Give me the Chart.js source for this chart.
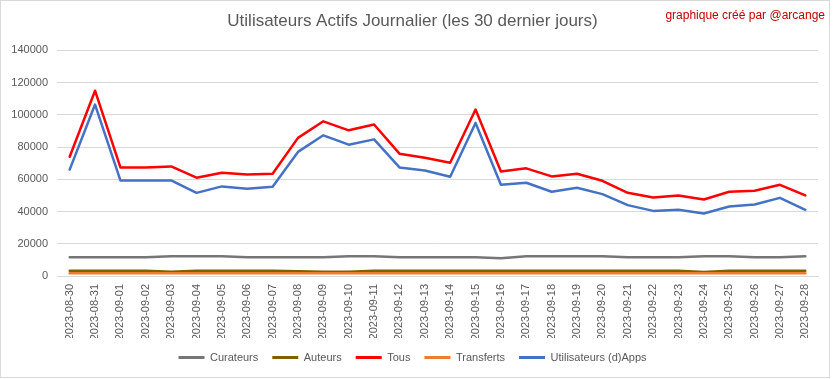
<!DOCTYPE html>
<html>
<head>
<meta charset="utf-8">
<script src="https://cdn.jsdelivr.net/npm/chart.js@4"></script>
<style>
  html, body { margin: 0; padding: 0; background: #fff; }
  #wrap { position: relative; width: 833px; height: 379px; }
</style>
</head>
<body>
<div id="wrap"><canvas id="dauChart" width="833" height="379"></canvas></div>
<script>
const dates = ['2023-08-30', '2023-08-31', '2023-09-01', '2023-09-02', '2023-09-03', '2023-09-04', '2023-09-05', '2023-09-06',
    '2023-09-07', '2023-09-08', '2023-09-09', '2023-09-10', '2023-09-11', '2023-09-12', '2023-09-13', '2023-09-14',
    '2023-09-15', '2023-09-16', '2023-09-17', '2023-09-18', '2023-09-19', '2023-09-20', '2023-09-21', '2023-09-22',
    '2023-09-23', '2023-09-24', '2023-09-25', '2023-09-26', '2023-09-27', '2023-09-28'];

const curateurs = [11600, 11600, 11600, 11600, 12200, 12200, 12200, 11600, 11600, 11600, 11600, 12200, 12200, 11600, 11600,
    11600, 11600, 11000, 12200, 12200, 12200, 12200, 11600, 11600, 11600, 12200, 12200, 11600, 11600, 12200];
const auteurs = [3300, 3300, 3300, 3300, 2600, 3300, 3300, 3300, 3300, 2900, 2700, 2700, 3300, 3300, 3300,
    3300, 3300, 3300, 3300, 3300, 3300, 3300, 3300, 3300, 3300, 2500, 3300, 3300, 3300, 3300];
const tous = [74000, 115000, 67400, 67400, 68000, 61000, 64100, 63000, 63500, 85700, 96000, 90400, 94000, 75900, 73400,
    70300, 103300, 64900, 66800, 61800, 63500, 59100, 51600, 48700, 50000, 47500, 52300, 52900, 56600, 50000];
const transferts = [1700, 1700, 1700, 1700, 1700, 1700, 1700, 1700, 1700, 1700, 1700, 1700, 1700, 1700, 1700,
    1700, 1700, 1700, 1700, 1700, 1700, 1700, 1700, 1700, 1700, 1700, 1700, 1700, 1700, 1700];
const appsUsers = [66000, 106400, 59300, 59300, 59300, 51600, 55600, 54100, 55400, 77000, 87300, 81500, 84800, 67400, 65500,
    61600, 95000, 56600, 57900, 52300, 54800, 50800, 44000, 40400, 41100, 38800, 43100, 44400, 48500, 41100];

const yTicks = [0, 20000, 40000, 60000, 80000, 100000, 120000, 140000];

const FONT = '"Liberation Sans", Arial, sans-serif';
const TXT = '#595959';

function serie(label, data, color, order) {
    return {
        label: label,
        data: data,
        borderColor: color,
        backgroundColor: color,
        borderWidth: 2.5,
        pointRadius: 0,
        tension: 0,
        borderJoinStyle: 'round',
        borderCapStyle: 'round',
        order: order
    };
}

// signature + cadre du graphique
const extras = {
    id: 'extras',
    afterDraw(chart) {
        const ctx = chart.ctx;
        ctx.save();
        ctx.font = '12px ' + FONT;
        ctx.fillStyle = '#C00000';
        ctx.textAlign = 'right';
        ctx.textBaseline = 'middle';
        ctx.fillText('graphique créé par @arcange', 825, 16);
        ctx.strokeStyle = '#D9D9D9';
        ctx.lineWidth = 1;
        ctx.strokeRect(0.5, 0.5, 829, 377);
        ctx.restore();
    }
};

new Chart(document.getElementById('dauChart').getContext('2d'), {
    type: 'line',
    data: {
        labels: dates,
        datasets: [
            serie('Curateurs', curateurs, '#767676', 4),
            serie('Auteurs', auteurs, '#7F6000', 3),
            serie('Tous', tous, '#FF0000', 2),
            serie('Transferts', transferts, '#ED7D31', 1),
            serie('Utilisateurs (d)Apps', appsUsers, '#4472C4', 0)
        ]
    },
    options: {
        responsive: false,
        animation: false,
        devicePixelRatio: 1,
        layout: {
            padding: { left: 7, right: 15, top: 0, bottom: 6 }
        },
        scales: {
            x: {
                offset: true,
                grid: { display: false, drawTicks: false },
                border: { display: true, color: '#D9D9D9', width: 1 },
                ticks: {
                    color: TXT,
                    font: { family: FONT, size: 11 },
                    minRotation: 90,
                    maxRotation: 90,
                    autoSkip: false,
                    padding: 8
                },
                afterFit: (scale) => { scale.height = 62; }
            },
            y: {
                min: 0,
                max: 140000,
                afterBuildTicks: (scale) => { scale.ticks = yTicks.map(v => ({ value: v })); },
                grid: { color: '#D9D9D9', drawTicks: false },
                border: { display: false },
                ticks: {
                    color: TXT,
                    font: { family: FONT, size: 11 },
                    padding: 9,
                    callback: (v) => String(v)
                },
                afterFit: (scale) => { scale.width = 50; }
            }
        },
        plugins: {
            title: {
                display: true,
                text: 'Utilisateurs Actifs Journalier (les 30 dernier jours)',
                color: TXT,
                font: { family: FONT, size: 17, weight: 'normal' },
                padding: { top: 11, bottom: 19 }
            },
            legend: {
                position: 'bottom',
                labels: {
                    color: TXT,
                    font: { family: FONT, size: 11 },
                    boxWidth: 26,
                    boxHeight: 3,
                    padding: 14,
                    sort: (a, b) => a.datasetIndex - b.datasetIndex,
                    generateLabels: (chart) => Chart.defaults.plugins.legend.labels.generateLabels(chart)
                        .map(l => Object.assign(l, { lineWidth: 0 }))
                }
            },
            tooltip: { enabled: false }
        }
    },
    plugins: [extras]
});
</script>
</body>
</html>
